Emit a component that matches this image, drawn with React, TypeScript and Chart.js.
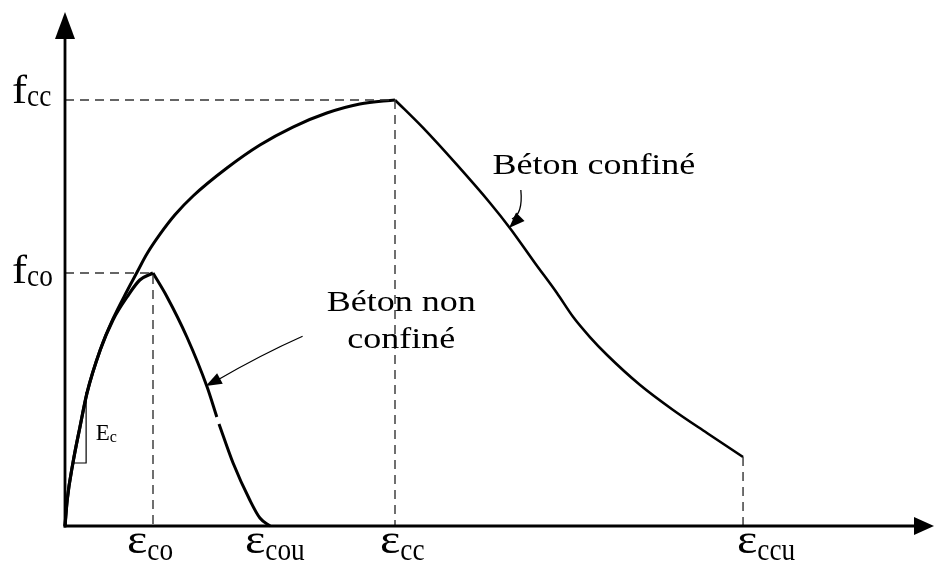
import React, { useEffect, useRef } from "react";
import { Chart, registerables } from "chart.js";

Chart.register(...registerables);

// Strain in per-mille, stress in MPa
const unconfinedRiseX = [0, 0.05, 0.18, 0.34, 0.5, 0.8, 1.09, 1.41, 1.7, 2.0];
const unconfinedRiseY = [0, 3.08, 7.47, 11.74, 15.77, 20.87, 24.43, 27.16, 29.17, 30.0];
const unconfinedFallX = [2.0, 2.32, 2.77, 3.23, 3.45];
const unconfinedFallY = [30.0, 27.16, 22.41, 16.48, 12.93];
const unconfinedTailX = [3.5, 3.82, 4.2, 4.43, 4.66];
const unconfinedTailY = [12.1, 7.47, 3.08, 0.95, 0];

const confinedRiseX = [0, 0.05, 0.18, 0.34, 0.5, 0.8, 1.09, 1.41, 1.64, 1.86, 2.16, 2.5, 2.91, 3.68, 4.43, 5.18, 5.95, 6.7, 7.5];
const confinedRiseY = [0, 3.08, 7.47, 11.74, 15.77, 20.87, 24.55, 27.87, 30.12, 32.25, 34.6, 36.9, 39.13, 42.45, 45.18, 47.31, 48.97, 50.04, 50.52];
const confinedFallX = [7.5, 8.14, 8.91, 9.66, 10.11, 10.68, 11.18, 11.55, 11.93, 12.32, 13.07, 13.82, 14.59, 15.41];
const confinedFallY = [50.52, 47.2, 42.81, 38.3, 35.34, 31.19, 27.63, 24.78, 22.41, 20.28, 16.72, 13.76, 11.03, 8.18];

const strainTicks = [2.0, 4.66, 7.5, 15.41];
const strainTickSubs = ["co", "cou", "cc", "ccu"];
const stressTicks = [30.0, 50.52];
const stressTickSubs = ["co", "cc"];
const confinedUltimateStress = 8.18;

const ecTriangleX = [0.18, 0.48, 0.48];
const ecTriangleY = [7.47, 7.47, 15.89];

const X_MIN = -1.4773;
const X_MAX = 19.75;
const Y_MIN = -4.388;
const Y_MAX = 62.374;

const SERIF = "'Liberation Serif', 'Times New Roman', serif";

const pts = (xs: number[], ys: number[]) => xs.map((x, i) => ({ x, y: ys[i] }));

function drawScaled(ctx: CanvasRenderingContext2D, text: string, x: number, y: number, size: number, sx: number, align: CanvasTextAlign = "left") {
  ctx.save();
  ctx.font = `${size}px ${SERIF}`;
  ctx.translate(x, y);
  ctx.scale(sx, 1);
  ctx.textAlign = align;
  ctx.textBaseline = "alphabetic";
  ctx.fillStyle = "#000";
  ctx.fillText(text, 0, 0);
  const w = ctx.measureText(text).width * sx;
  ctx.restore();
  return w;
}

function drawComposite(ctx: CanvasRenderingContext2D, main: string, sub: string, left: number, base: number, mSize: number, mSx: number, sSize: number, sSx: number, subDy: number) {
  const w = drawScaled(ctx, main, left, base, mSize, mSx);
  drawScaled(ctx, sub, left + w, base + subDy, sSize, sSx);
}

function arrowHead(ctx: CanvasRenderingContext2D, tx: number, ty: number, fx: number, fy: number, len: number, half: number) {
  const a = Math.atan2(ty - fy, tx - fx);
  ctx.beginPath();
  ctx.moveTo(tx, ty);
  ctx.lineTo(tx - len * Math.cos(a) + half * Math.sin(a), ty - len * Math.sin(a) - half * Math.cos(a));
  ctx.lineTo(tx - len * Math.cos(a) - half * Math.sin(a), ty - len * Math.sin(a) + half * Math.cos(a));
  ctx.closePath();
  ctx.fill();
}

const strainLabelDx = [-26, -25, -15, -6];
const stressLabelDy = [10, 3];

const annotationPlugin = {
  id: "annot",
  afterDatasetsDraw(chart: any) {
    const ctx: CanvasRenderingContext2D = chart.ctx;
    const xs = chart.scales.x;
    const ys = chart.scales.y;
    const X = (v: number) => xs.getPixelForValue(v);
    const Y = (v: number) => ys.getPixelForValue(v);
    const ox = X(0);
    const oy = Y(0);
    ctx.save();
    ctx.strokeStyle = "#000";
    ctx.fillStyle = "#000";
    ctx.lineWidth = 2.8;
    // axes
    ctx.beginPath();
    ctx.moveTo(ox, oy + 1.4);
    ctx.lineTo(ox, 36);
    ctx.stroke();
    ctx.beginPath();
    ctx.moveTo(ox - 1.4, oy);
    ctx.lineTo(chart.width - 18, oy);
    ctx.stroke();
    ctx.beginPath();
    ctx.moveTo(ox, 12);
    ctx.lineTo(ox - 10, 39);
    ctx.lineTo(ox + 10, 39);
    ctx.closePath();
    ctx.fill();
    ctx.beginPath();
    ctx.moveTo(chart.width, oy);
    ctx.lineTo(chart.width - 20, oy - 9);
    ctx.lineTo(chart.width - 20, oy + 9);
    ctx.closePath();
    ctx.fill();

    // pointer arrows
    ctx.lineWidth = 1.3;
    const a1 = [X(5.4), Y(22.5)], c1 = [X(4.45), Y(20.3)], t1 = [X(3.2), Y(16.6)];
    ctx.beginPath();
    ctx.moveTo(a1[0], a1[1]);
    ctx.quadraticCurveTo(c1[0], c1[1], t1[0] + 10, t1[1] - 5);
    ctx.stroke();
    arrowHead(ctx, t1[0], t1[1], c1[0], c1[1] + 2, 16, 6);
    const a2 = [X(10.36), Y(39.84)], c2 = [X(10.41), Y(37.0)], t2 = [X(10.09), Y(35.34)];
    ctx.beginPath();
    ctx.moveTo(a2[0], a2[1]);
    ctx.quadraticCurveTo(c2[0], c2[1], t2[0] + 3, t2[1] - 9);
    ctx.stroke();
    arrowHead(ctx, t2[0], t2[1], c2[0], c2[1], 16, 6);

    // texts
    drawScaled(ctx, "Béton confiné", X(12.02), Y(41.74), 30, 1.2, "center");
    drawScaled(ctx, "Béton non", X(7.64), Y(25.5), 30, 1.2, "center");
    drawScaled(ctx, "confiné", X(7.64), Y(21.1), 30, 1.2, "center");

    // Ec
    drawComposite(ctx, "E", "c", X(0.7), Y(10.2), 23, 1.0, 16, 1.0, 2);

    // strain labels
    strainTicks.forEach((v, i) => {
      drawComposite(ctx, "ε", strainTickSubs[i], X(v) + strainLabelDx[i], oy + 27, 42, 1.15, 31, 0.88, 7);
    });
    // stress labels
    stressTicks.forEach((v, i) => {
      drawComposite(ctx, "f", stressTickSubs[i], 12, Y(v) + stressLabelDy[i], 41, 1.1, 31, 0.88, 3);
    });
    ctx.restore();
  },
};

export default function App() {
  const ref = useRef<HTMLCanvasElement>(null);
  useEffect(() => {
    document.body.style.margin = "0";
    const curve = (data: any[], w = 3) => ({
      data,
      borderColor: "#000",
      borderWidth: w,
      pointRadius: 0,
      cubicInterpolationMode: "monotone" as const,
      fill: false,
    });
    const dashed = (data: any[]) => ({
      data,
      borderColor: "#333",
      borderWidth: 1.4,
      borderDash: [9, 6],
      pointRadius: 0,
      tension: 0,
      fill: false,
    });
    const chart = new Chart(ref.current!, {
      type: "line",
      data: {
        datasets: [
          dashed([{ x: 0, y: stressTicks[0] }, { x: strainTicks[0], y: stressTicks[0] }, { x: strainTicks[0], y: 0 }]),
          dashed([{ x: 0, y: stressTicks[1] }, { x: strainTicks[2], y: stressTicks[1] }, { x: strainTicks[2], y: 0 }]),
          dashed([{ x: strainTicks[3], y: confinedUltimateStress }, { x: strainTicks[3], y: 0 }]),
          { data: pts(ecTriangleX, ecTriangleY), borderColor: "#000", borderWidth: 1.2, pointRadius: 0, tension: 0, fill: false },
          curve(pts(unconfinedRiseX, unconfinedRiseY), 3.2),
          curve(pts(unconfinedFallX, unconfinedFallY), 3),
          curve(pts(unconfinedTailX, unconfinedTailY), 3),
          curve(pts(confinedRiseX, confinedRiseY), 3),
          curve(pts(confinedFallX, confinedFallY), 2.6),
        ] as any,
      },
      options: {
        animation: false,
        responsive: false,
        devicePixelRatio: 1,
        layout: { padding: 0 },
        plugins: { legend: { display: false }, tooltip: { enabled: false } },
        scales: {
          x: { type: "linear", min: X_MIN, max: X_MAX, display: false },
          y: { type: "linear", min: Y_MIN, max: Y_MAX, display: false },
        },
      },
      plugins: [annotationPlugin],
    });
    return () => chart.destroy();
  }, []);
  return (
    <div style={{ position: "fixed", left: 0, top: 0, width: 934, height: 563, background: "#fff" }}>
      <canvas ref={ref} width={934} height={563} />
    </div>
  );
}
